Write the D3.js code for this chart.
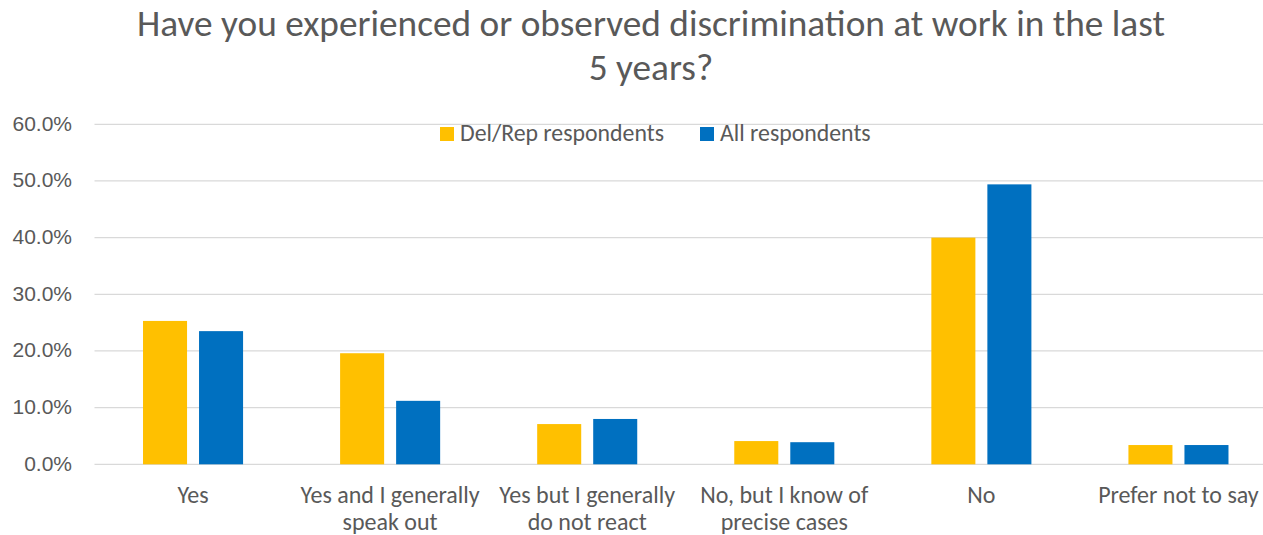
<!DOCTYPE html>
<html>
<head>
<meta charset="utf-8">
<script src="https://cdn.jsdelivr.net/npm/d3@7"></script>
<style>
  html, body { margin: 0; padding: 0; background: #fff; overflow: hidden; }
  svg { display: block; font-family: Carlito, Calibri, Lato, "Open Sans", sans-serif; }
</style>
</head>
<body>
<svg id="chart" width="1263" height="535"></svg>
<script>
// Survey question and answer categories
const titleLines = ["Have you experienced or observed discrimination at work in the last", "5 years?"];
const categories = [
  "Yes",
  "Yes and I generally speak out",
  "Yes but I generally do not react",
  "No, but I know of precise cases",
  "No",
  "Prefer not to say"
];
const seriesNames = ["Del/Rep respondents", "All respondents"];
const seriesColors = ["#FFC000", "#0070C0"];
// Share of respondents (fraction) for each category
const delRepValues = [0.253, 0.196, 0.071, 0.041, 0.400, 0.034];
const allValues    = [0.235, 0.112, 0.080, 0.039, 0.494, 0.034];
const yTicks = [0, 0.1, 0.2, 0.3, 0.4, 0.5, 0.6];

const svg = d3.select("#chart");
const textColor = "#595959";
const margin = { left: 94.5, right: 1277, top: 124.3, bottom: 464.3 };

const x0 = d3.scaleBand().domain(categories).range([margin.left, margin.right]).padding(0);
const x1 = d3.scaleBand().domain(seriesNames).range([0, x0.bandwidth()])
  .paddingInner(0.214).paddingOuter(0.866);
const y = d3.scaleLinear().domain([0, 0.6]).range([margin.bottom, margin.top]);

// Title
svg.append("g").selectAll("text").data(titleLines).join("text")
  .attr("x", 651).attr("y", (d, i) => 36 + i * 44)
  .attr("text-anchor", "middle")
  .attr("fill", textColor)
  .attr("font-size", 37.3)
  .attr("font-weight", 400)
  .text(d => d);

// Gridlines
svg.append("g").selectAll("line").data(yTicks).join("line")
  .attr("x1", margin.left).attr("x2", margin.right)
  .attr("y1", d => y(d)).attr("y2", d => y(d))
  .attr("stroke", "#D9D9D9").attr("stroke-width", 1.3);

// Y axis labels
const yAxis = d3.axisLeft(y).tickValues(yTicks).tickFormat(d3.format(".1%")).tickSize(0).tickPadding(0);
const yG = svg.append("g").attr("transform", "translate(72,0)").call(yAxis);
yG.select(".domain").remove();
yG.selectAll("text").attr("fill", textColor).attr("font-size", 21).attr("font-family", null)
  .attr("dy", "0.28em");

// Bars
const series = [delRepValues, allValues];
const groups = svg.append("g").selectAll("g").data(categories).join("g")
  .attr("transform", c => `translate(${x0(c)},0)`);
groups.selectAll("rect")
  .data((c, i) => seriesNames.map((s, k) => ({ s, k, v: series[k][i] })))
  .join("rect")
  .attr("x", d => x1(d.s))
  .attr("width", x1.bandwidth())
  .attr("y", d => y(d.v))
  .attr("height", d => y(0) - y(d.v))
  .attr("fill", d => seriesColors[d.k]);

// Category labels, wrapped to fit the band
const catFont = 24;
const labels = svg.append("g").selectAll("text").data(categories).join("text")
  .attr("text-anchor", "middle")
  .attr("fill", textColor)
  .attr("font-size", catFont)
  .attr("x", c => x0(c) + x0.bandwidth() / 2)
  .attr("y", 503);
labels.each(function(c) {
  const t = d3.select(this);
  const words = c.split(" ");
  const lines = [];
  let line = [];
  const probe = t.append("tspan");
  for (const w of words) {
    const trial = line.concat(w).join(" ");
    probe.text(trial);
    if (probe.node().getComputedTextLength() > 192 && line.length) {
      lines.push(line.join(" "));
      line = [w];
    } else {
      line.push(w);
    }
  }
  lines.push(line.join(" "));
  probe.remove();
  lines.forEach((l, i) => {
    t.append("tspan").attr("x", x0(c) + x0.bandwidth() / 2).attr("dy", i ? 27 : 0).text(l);
  });
});

// Legend
const legendItems = [{ x: 440, tx: 460 }, { x: 700, tx: 720 }];
const lg = svg.append("g");
seriesNames.forEach((s, k) => {
  lg.append("rect").attr("x", legendItems[k].x).attr("y", 127).attr("width", 14).attr("height", 14)
    .attr("fill", seriesColors[k]);
  lg.append("text").attr("x", legendItems[k].tx).attr("y", 141)
    .attr("fill", textColor).attr("font-size", 23.8).text(s);
});
</script>
</body>
</html>
